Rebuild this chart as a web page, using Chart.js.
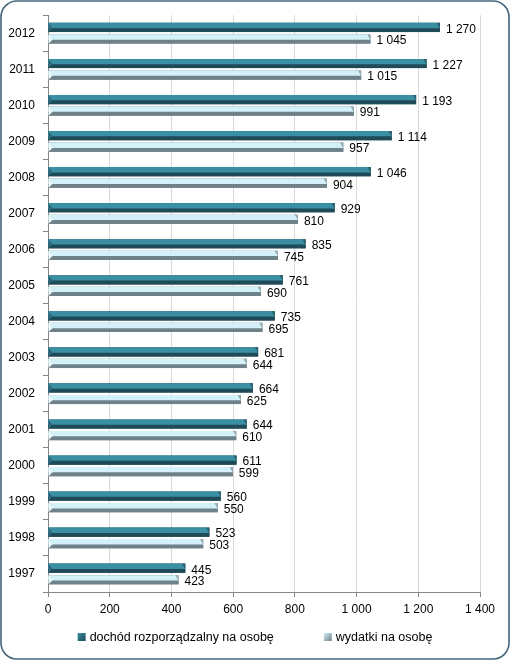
<!DOCTYPE html>
<html>
<head>
<meta charset="utf-8">
<script src="https://cdn.jsdelivr.net/npm/chart.js@4/dist/chart.umd.min.js"></script>
<style>
  html, body { margin: 0; padding: 0; background: #ffffff; }
  #wrap { width: 510px; height: 660px; position: relative; }
  canvas { display: block; }
</style>
</head>
<body>
<div id="wrap"><canvas id="c" width="510" height="660"></canvas></div>
<script>
const years = ['2012','2011','2010','2009','2008','2007','2006','2005','2004','2003','2002','2001','2000','1999','1998','1997'];
const dochod = [1270,1227,1193,1114,1046,929,835,761,735,681,664,644,611,560,523,445];
const wydatki = [1045,1015,991,957,904,810,745,690,695,644,625,610,599,550,503,423];
const seriesNames = ['dochód rozporządzalny na osobę', 'wydatki na osobę'];
const xMin = 0, xMax = 1400, xStep = 200;

const FONT = "'Liberation Sans', Arial, sans-serif";
const fmt = v => String(v).replace(/\B(?=(\d{3})+(?!\d))/g, ' ');

const palette = [
  { top: '#3b8fa3', bottom: '#1f4a58', edge: '#2b6272', legend: '#2f7488' },
  { top: '#d2f1f9', bottom: '#6f8289', edge: '#9db0b6', legend: '#9fb6bd' }
];

const frame = {
  id: 'frame',
  beforeDraw(chart) {
    const c = chart.ctx;
    c.save();
    c.fillStyle = '#ffffff';
    c.fillRect(0, 0, chart.width, chart.height);
    c.restore();
  },
  afterDraw(chart) {
    const c = chart.ctx;
    c.save();
    c.strokeStyle = '#45657a';
    c.lineWidth = 1.6;
    c.beginPath();
    c.roundRect(1, 1, chart.width - 2, chart.height - 2, 16);
    c.stroke();
    c.restore();
  }
};

const bars3d = {
  id: 'bars3d',
  afterDatasetsDraw(chart) {
    const c = chart.ctx;
    c.save();
    chart.data.datasets.forEach((ds, di) => {
      const meta = chart.getDatasetMeta(di);
      const p = palette[di];
      meta.data.forEach((el, i) => {
        const { x, y, base, height } = el.getProps(['x', 'y', 'base', 'height'], true);
        const top = y - height / 2, bot = y + height / 2;
        const mid = top + height * 0.58;
        // lower (dark) face
        c.fillStyle = p.bottom;
        c.fillRect(base, mid, x - base, bot - mid);
        // upper (light) face with bevelled end
        c.fillStyle = p.top;
        c.beginPath();
        c.moveTo(base, top);
        c.lineTo(x - 3, top);
        c.lineTo(x, mid);
        c.lineTo(base, mid);
        c.closePath();
        c.fill();
        // end bevel
        c.fillStyle = p.edge;
        c.beginPath();
        c.moveTo(x - 3, top);
        c.lineTo(x, top);
        c.lineTo(x, mid);
        c.closePath();
        c.fill();
        // left bevel
        c.fillStyle = di === 0 ? '#2a6a7c' : '#eef9fc';
        c.beginPath();
        c.moveTo(base, top);
        c.lineTo(base + 4, mid);
        c.lineTo(base, bot);
        c.closePath();
        c.fill();
        // value label
        c.fillStyle = '#000000';
        c.font = '12px ' + FONT;
        c.textAlign = 'left';
        c.textBaseline = 'middle';
        c.fillText(fmt(ds.data[i]), x + 6, y + 2);
      });
    });
    c.restore();
  }
};

const legendPlugin = {
  id: 'customLegend',
  afterDraw(chart) {
    const c = chart.ctx;
    c.save();
    c.font = '12.5px ' + FONT;
    c.textBaseline = 'middle';
    c.textAlign = 'left';
    const box = 8, gapBoxText = 4, gapItems = 50;
    const widths = chart.data.datasets.map(d => box + gapBoxText + c.measureText(d.label).width);
    const total = widths.reduce((a, b) => a + b, 0) + gapItems * (widths.length - 1);
    let xPos = (chart.width - total) / 2;
    const yc = 637;
    chart.data.datasets.forEach((d, i) => {
      const p = palette[i];
      const g = c.createLinearGradient(xPos, yc - box / 2, xPos + box, yc + box / 2);
      g.addColorStop(0, p.top);
      g.addColorStop(1, p.bottom);
      c.fillStyle = g;
      c.fillRect(xPos, yc - box / 2, box, box);
      c.fillStyle = '#000000';
      c.fillText(d.label, xPos + box + gapBoxText, yc + 1);
      xPos += widths[i] + gapItems;
    });
    c.restore();
  }
};

new Chart(document.getElementById('c'), {
  type: 'bar',
  data: {
    labels: years,
    datasets: [
      { label: seriesNames[0], data: dochod, backgroundColor: palette[0].bottom, borderWidth: 0,
        categoryPercentage: 0.64, barPercentage: 0.8 },
      { label: seriesNames[1], data: wydatki, backgroundColor: palette[1].bottom, borderWidth: 0,
        categoryPercentage: 0.64, barPercentage: 0.8 }
    ]
  },
  options: {
    indexAxis: 'y',
    responsive: false,
    animation: false,
    devicePixelRatio: 1,
    layout: { padding: { left: 0, right: 30, top: 15, bottom: 43 } },
    plugins: {
      legend: { display: false },
      tooltip: { enabled: false }
    },
    scales: {
      x: {
        min: xMin, max: xMax,
        ticks: { stepSize: xStep, callback: v => fmt(v), color: '#000000',
                 font: { family: FONT, size: 12 }, padding: 5, maxRotation: 0 },
        grid: { color: '#d9d9d9', tickColor: '#868686', tickLength: 5, lineWidth: 1 },
        border: { color: '#868686' },
        afterFit: s => { s.height = 25; }
      },
      y: {
        ticks: { color: '#000000', font: { family: FONT, size: 12 }, padding: 8 },
        grid: { drawOnChartArea: false, tickColor: '#868686', tickLength: 5, offset: true },
        border: { color: '#868686' },
        afterFit: s => { s.width = 48; }
      }
    }
  },
  plugins: [frame, bars3d, legendPlugin]
});
</script>
</body>
</html>
